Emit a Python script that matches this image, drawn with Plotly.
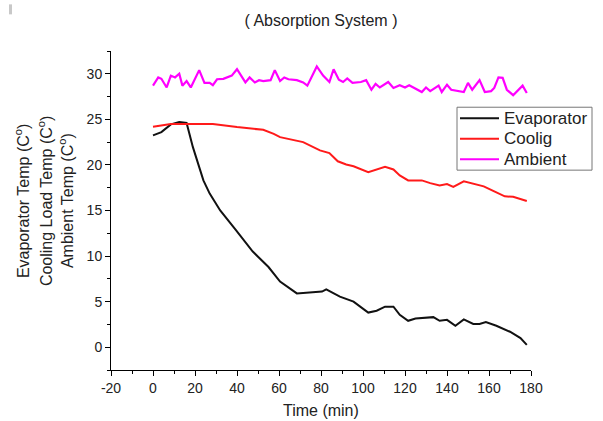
import plotly.graph_objects as go

# ---- data ----
evap_t = [0, 4, 8.5, 12.5, 16, 19, 22.5, 24, 27, 32, 39.5, 47.5, 55, 60.5, 68.5, 74, 80.5, 82.5, 86, 89,
          95.5, 102.5, 106.5, 110.5, 114.5, 117.5, 121.5, 125, 133.5, 136.5, 140, 144, 148, 152.5,
          155.5, 158.5, 163.5, 170, 175, 178]
evap_v = [23.25, 23.6, 24.45, 24.7, 24.6, 21.95, 19.4, 18.3, 16.85, 15.0, 12.85, 10.5, 8.8, 7.2, 5.9, 6.0,
          6.1, 6.35, 5.9, 5.55, 5.0, 3.8, 4.0, 4.45, 4.45, 3.55, 2.9, 3.15, 3.3, 2.9, 3.0, 2.35, 3.05,
          2.55, 2.55, 2.75, 2.35, 1.7, 1.0, 0.25]

cool_t = [0, 8.5, 16, 28.5, 40, 52.5, 57.5, 60.5, 71.5, 79.5, 84, 88, 92, 95.5, 102.5, 105, 110.5, 114.5,
          117.5, 121.5, 128, 132, 136.5, 140, 143, 148, 152.5, 157.5, 162, 167.5, 171.5, 178]
cool_v = [24.2, 24.5, 24.5, 24.5, 24.15, 23.85, 23.4, 23.05, 22.5, 21.6, 21.3, 20.4, 20.05, 19.85, 19.2,
          19.4, 19.8, 19.5, 18.85, 18.3, 18.3, 18.0, 17.75, 17.9, 17.6, 18.2, 17.95, 17.65, 17.15, 16.55,
          16.5, 16.05]

amb_t = [0, 2.5, 4, 6.5, 8.5, 10.5, 12.5, 14, 16, 18, 22, 24.5, 27, 28.5, 30.5, 33.5, 37.5, 40, 44, 46,
         48.5, 50.5, 52.5, 56, 58, 60.5, 62.5, 64.5, 68.5, 71.5, 73.5, 78, 81, 84, 86, 88.5, 90.5, 92.5,
         95, 99, 101.5, 104, 106, 108, 112, 114.5, 117.5, 120, 122, 125, 128, 130, 132, 136, 137.5, 140,
         142, 148, 150, 152, 155.5, 158, 161, 162.5, 164.5, 166.5, 168.5, 171.5, 176, 178]
amb_v = [28.7, 29.6, 29.45, 28.5, 29.8, 29.6, 30.0, 28.7, 29.2, 28.5, 30.4, 29.0, 29.0, 28.75, 29.4, 29.45,
         29.8, 30.5, 29.05, 29.6, 29.05, 29.3, 29.2, 29.3, 30.4, 29.2, 29.6, 29.4, 29.3, 29.05, 28.7, 30.8,
         29.8, 29.1, 30.5, 29.35, 29.1, 29.5, 29.0, 29.1, 29.3, 28.25, 28.9, 28.5, 29.1, 28.45, 28.75, 28.5,
         28.75, 28.35, 28.0, 28.5, 28.1, 28.7, 28.0, 28.8, 28.25, 28.0, 29.0, 28.25, 29.3, 28.0, 28.1, 28.45,
         29.6, 29.55, 28.25, 27.65, 28.7, 27.9]

series_names = ["Evaporator", "Coolig", "Ambient"]
series_colors = ["#111111", "#ff1a1a", "#ff00ff"]
x_tickvals = [-20, 0, 20, 40, 60, 80, 100, 120, 140, 160, 180]
x_ticktext = ["-20", "0", "20", "40", "60", "80", "100", "120", "140", "160", "180"]
y_tickvals = [0, 5, 10, 15, 20, 25, 30]
y_ticktext = ["0", "5", "10", "15", "20", "25", "30"]
title_text = "( Absorption System )"
x_title = "Time (min)"
y_titles = ["Evaporator Temp (C<sup>o</sup>)", "Cooling Load Temp (C<sup>o</sup>)", "Ambient Temp (C<sup>o</sup>)"]

FONT = "Liberation Sans, Arial, sans-serif"
TXT = "#222222"

# ---- geometry (pixels) ----
W, H = 603, 421
PL, PR, PT, PB = 111, 531, 50.7, 370.1
X_RANGE = [-20, 180]
Y_RANGE = [-2.5, 32.5]


def px_x(p):
    return (p - PL) / (PR - PL)


def px_y(p):
    return (PB - p) / (PB - PT)


fig = go.Figure()
for xs, ys, nm, col in zip([evap_t, cool_t, amb_t], [evap_v, cool_v, amb_v], series_names, series_colors):
    fig.add_trace(go.Scatter(x=xs, y=ys, mode="lines", name=nm,
                             line=dict(color=col, width=2 if col != "#ff00ff" else 2.2)))

fig.update_layout(
    width=W, height=H,
    margin=dict(l=PL, r=W - PR, t=PT, b=H - PB, autoexpand=False),
    paper_bgcolor="white", plot_bgcolor="white",
    font=dict(family=FONT, color=TXT, size=14),
    title=dict(text=title_text, x=0.5, xref="paper", xanchor="center",
               y=1 - 20 / H, yanchor="middle", font=dict(size=16, color=TXT)),
    showlegend=False,
)

fig.update_xaxes(range=X_RANGE, showgrid=False, zeroline=False, showline=True,
                 linecolor="black", linewidth=1, mirror=False,
                 ticks="outside", ticklen=5, tickcolor="black", tickwidth=1,
                 tickmode="array", tickvals=x_tickvals, ticktext=x_ticktext,
                 tickfont=dict(size=14, color=TXT),
                 minor=dict(ticks="outside", ticklen=3, dtick=10, tick0=0, tickcolor="black", showgrid=False))
fig.update_yaxes(range=Y_RANGE, showgrid=False, zeroline=False, showline=True,
                 linecolor="black", linewidth=1, mirror=False,
                 ticks="outside", ticklen=5, tickcolor="black", tickwidth=1,
                 tickmode="array", tickvals=y_tickvals, ticktext=y_ticktext,
                 tickfont=dict(size=14, color=TXT),
                 minor=dict(ticks="outside", ticklen=3, dtick=2.5, tick0=0, tickcolor="black", showgrid=False))

# axis titles as annotations
fig.add_annotation(text=x_title, x=0.5, y=px_y(411), xref="paper", yref="paper",
                   xanchor="center", yanchor="middle", showarrow=False,
                   font=dict(size=16, color=TXT))
for xp, txt in zip([22, 45, 66], y_titles):
    fig.add_annotation(text=txt, x=px_x(xp), y=px_y(201), xref="paper", yref="paper",
                       xanchor="center", yanchor="middle", showarrow=False, textangle=-90,
                       font=dict(size=16, color=TXT))

# legend box drawn to match the reference layout
fig.add_shape(type="rect", xref="paper", yref="paper",
              x0=px_x(457), x1=px_x(592), y0=px_y(170), y1=px_y(107),
              fillcolor="white", line=dict(color="#777777", width=1), layer="above")
for i, (nm, col) in enumerate(zip(series_names, series_colors)):
    yrow = 118 + i * 20.5
    fig.add_shape(type="line", xref="paper", yref="paper",
                  x0=px_x(460), x1=px_x(499), y0=px_y(yrow), y1=px_y(yrow),
                  line=dict(color=col, width=2), layer="above")
    fig.add_annotation(text=nm, x=px_x(502), y=px_y(yrow), xref="paper", yref="paper",
                       xanchor="left", yanchor="middle", showarrow=False,
                       font=dict(size=17, color=TXT))

# small grey mark at top-left corner of the reference
fig.add_shape(type="rect", xref="paper", yref="paper",
              x0=px_x(9), x1=px_x(12), y0=px_y(14), y1=px_y(4),
              fillcolor="#c8c8c8", line=dict(width=0))

fig.write_html("out.html")
